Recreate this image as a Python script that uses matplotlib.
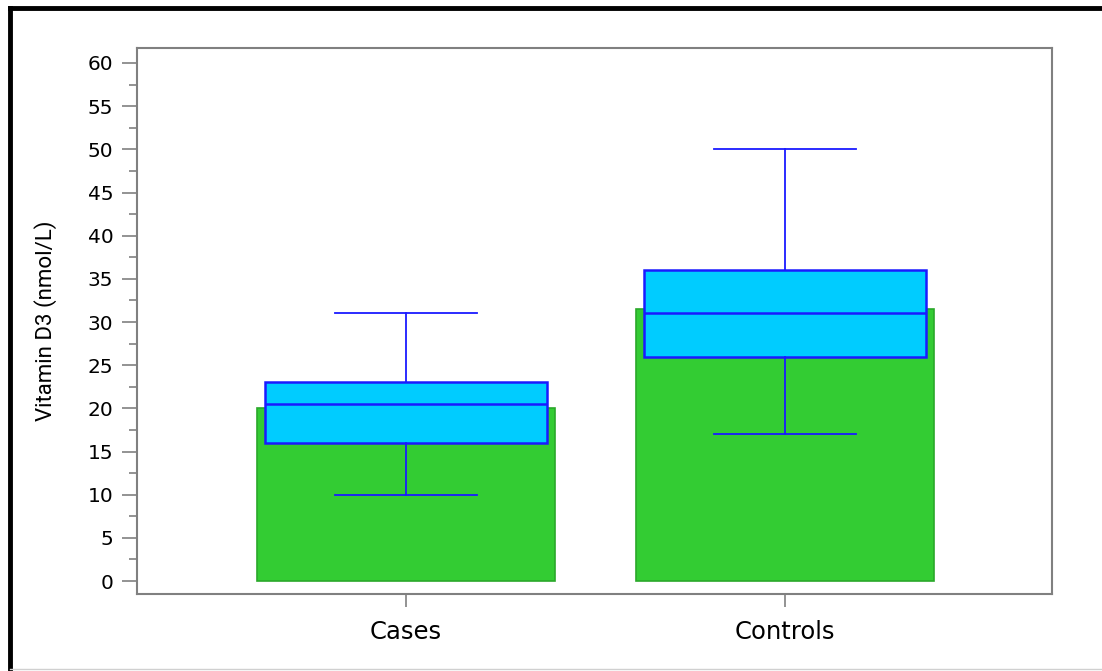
import matplotlib
matplotlib.use("Agg")
import matplotlib.pyplot as plt
from matplotlib.lines import Line2D
from matplotlib.ticker import MultipleLocator

GROUPS = ["Cases", "Controls"]
MEAN_VALUES = [20.0, 31.5]
Q1 = [16.0, 26.0]
MEDIANS = [20.5, 31.0]
Q3 = [23.0, 36.0]
WHISKER_LOW = [10.0, 17.0]
WHISKER_HIGH = [31.0, 50.0]

GREEN = "#33cc33"
CYAN = "#00ccff"
BLUE = "#1a1aff"
GRAY = "#808080"

plt.rcParams["font.family"] = ["DejaVu Sans"]

fig = plt.figure(figsize=(11.02, 6.71), dpi=100)
ax = fig.add_axes([0.1243, 0.1148, 0.8303, 0.8137])

pos = list(range(len(GROUPS)))
ax.bar(pos, MEAN_VALUES, width=0.786, color=GREEN, edgecolor="#2aa82a",
       linewidth=1.2, zorder=1)

stats = [
    dict(label=g, q1=a, med=m, q3=b, whislo=lo, whishi=hi, fliers=[])
    for g, a, m, b, lo, hi in zip(GROUPS, Q1, MEDIANS, Q3, WHISKER_LOW, WHISKER_HIGH)
]
ax.bxp(stats, positions=pos, widths=0.744, capwidths=0.375, patch_artist=True,
       showfliers=False, manage_ticks=False, zorder=3,
       boxprops=dict(facecolor=CYAN, edgecolor=BLUE, linewidth=1.8),
       medianprops=dict(color=BLUE, linewidth=1.8),
       whiskerprops=dict(color=BLUE, linewidth=1.3),
       capprops=dict(color=BLUE, linewidth=1.3))

ax.set_xlim(-0.71, 1.705)
ax.set_ylim(-1.5, 61.74)
ax.set_xticks(pos)
ax.set_xticklabels(GROUPS, fontsize=17.5)
ax.yaxis.set_major_locator(MultipleLocator(5))
ax.yaxis.set_minor_locator(MultipleLocator(2.5))
ax.tick_params(axis="y", which="major", length=11, width=1.2, color=GRAY,
               labelsize=14.5, pad=6)
ax.tick_params(axis="y", which="minor", length=6, width=1.2, color=GRAY)
ax.tick_params(axis="x", length=9, width=1.2, color=GRAY, pad=10)
for s in ax.spines.values():
    s.set_color(GRAY)
    s.set_linewidth(1.5)

ax.set_ylabel("Vitamin D3 (nmol/L)", fontsize=16, family=["Roboto", "DejaVu Sans"],
              labelpad=22)

# outer frame around the figure
fig.add_artist(Line2D([10 / 1102, 10 / 1102], [0, 1 - 8 / 671], color="black", lw=3.5,
                      transform=fig.transFigure))
fig.add_artist(Line2D([10 / 1102, 1], [1 - 8 / 671, 1 - 8 / 671], color="black", lw=3.5,
                      transform=fig.transFigure))
fig.add_artist(Line2D([10 / 1102, 1], [2 / 671, 2 / 671], color="#d0d0d0", lw=1,
                      transform=fig.transFigure))

fig.savefig("out.png", dpi=100)
